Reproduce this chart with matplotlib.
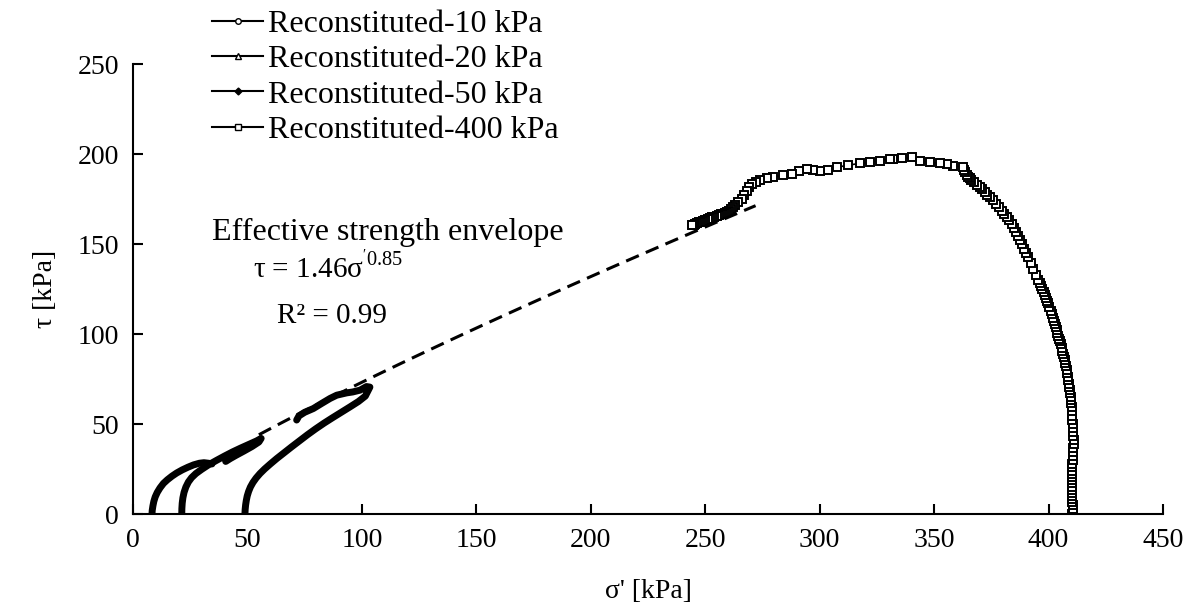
import numpy as np
import matplotlib
matplotlib.use('Agg')
import matplotlib.pyplot as plt
from matplotlib.lines import Line2D

plt.rcParams['font.family'] = ['Liberation Serif', 'DejaVu Serif']
plt.rcParams['mathtext.fontset'] = 'custom'
plt.rcParams['mathtext.rm'] = 'Liberation Serif'

# sigma' [kPa], tau [kPa]
sig_10 = [8.3, 8.4, 8.7, 9.1, 9.7, 10.6, 11.8, 13.3, 15.0, 17.0, 19.1, 21.5, 24.0, 26.5, 29.0,
          31.0, 33.0, 34.5]
tau_10 = [0.0, 2.0, 4.5, 7.0, 9.5, 12.0, 14.5, 17.0, 19.0, 21.0, 22.8, 24.5, 26.0, 27.3, 28.2,
          28.5, 28.2, 27.8]

sig_20 = [21.3, 21.35, 21.5, 21.8, 22.3, 23.1, 24.2, 25.6, 27.5, 30.0, 33.0, 36.5, 40.0, 43.5, 47.0,
          50.5, 54.0, 56.0, 55.0, 52.0, 48.5, 45.0, 42.5, 40.5]
tau_20 = [0.0, 3.0, 6.0, 9.0, 12.0, 15.0, 17.8, 20.2, 22.5, 24.8, 27.3, 29.8, 32.2, 34.5, 36.6,
          38.6, 40.6, 42.0, 40.0, 37.5, 35.0, 32.6, 30.8, 29.2]

sig_50 = [48.9, 49.0, 49.2, 49.5, 49.9, 50.5, 51.3, 52.4, 53.8, 55.5, 57.5, 60.0, 62.8, 66.0, 69.3,
          72.7, 76.2, 79.8, 83.5, 87.2, 91.0, 94.8, 98.5, 101.5, 103.5, 102.0, 99.2, 96.0, 93.4,
          89.0, 86.1, 82.4, 78.8, 75.0, 72.5, 71.5]
tau_50 = [0.0, 2.5, 5.0, 7.5, 10.0, 12.5, 15.0, 17.5, 20.0, 22.5, 25.0, 27.8, 30.8, 34.0, 37.3,
          40.6, 44.0, 47.3, 50.5, 53.5, 56.5, 59.5, 62.5, 65.5, 70.5, 70.8, 68.8, 67.8, 67.3,
          66.0, 64.2, 61.4, 58.6, 56.5, 54.5, 52.2]

sig_400 = [410.3, 410.5, 410.6, 410.5, 410.4, 410.2, 410.1, 410.1, 410.2, 410.3, 410.3, 410.4,
           410.4, 410.3, 410.1, 410.2, 410.3, 410.5, 410.6, 410.7, 410.8, 410.9, 410.9, 410.8,
           410.7, 410.6, 410.5, 410.4, 410.3, 410.2, 410.1, 409.9, 409.8, 409.6, 409.5, 409.3,
           409.1, 408.9, 408.6, 408.4, 408.1, 407.9, 407.6, 407.3, 407.0, 406.7, 406.4, 406.0,
           405.7, 405.3, 405.0, 404.6, 404.3, 403.9, 403.5, 403.1, 402.7, 402.2, 401.8, 401.3,
           400.9, 400.4, 399.9, 399.4, 398.9, 398.3, 397.8, 397.2, 396.7, 396.1, 395.5, 394.4,
           393.3, 392.2, 391.1, 390.2, 389.3, 388.4, 387.5, 386.6, 385.7, 384.8, 383.9, 382.8,
           381.7, 380.6, 379.5, 378.2, 377.0, 375.7, 374.4, 373.3, 372.2, 371.1, 370.0, 368.8,
           367.5, 366.2, 365.5, 364.9, 364.2, 363.5, 363.1, 362.7, 358.4, 355.5, 352.6, 348.0,
           343.8, 340.2, 336.0, 332.2, 330.7, 326.5, 322.0, 317.6, 312.5, 307.4, 303.6, 300.1,
           297.0, 294.3, 291.0, 287.8, 284.0, 279.7, 276.8, 273.9, 272.0, 270.3, 269.2, 268.1,
           267.0, 265.9, 264.5, 263.0, 262.1, 261.2, 260.3, 259.4, 258.5, 257.7, 256.8, 256.0,
           255.0, 254.0, 253.0, 252.0, 251.0, 250.0, 249.0, 248.0, 247.2, 246.5, 245.7, 245.0,
           244.5, 244.1]
tau_400 = [0.0, 1.5, 3.0, 4.8, 6.5, 8.2, 10.0, 11.8, 13.5, 15.2, 17.0, 18.8, 20.5, 22.2, 24.0,
           26.0, 28.0, 30.0, 32.0, 34.2, 36.5, 38.8, 41.0, 43.2, 45.5, 47.8, 50.0, 52.2, 54.5,
           57.0, 59.5, 61.5, 63.5, 65.2, 67.0, 68.8, 70.5, 72.4, 74.3, 76.2, 78.2, 80.1, 82.0,
           83.8, 85.5, 87.2, 89.0, 90.8, 92.5, 94.2, 96.0, 97.5, 99.0, 100.5, 102.0, 103.8,
           105.5, 107.2, 109.0, 111.0, 113.0, 115.0, 117.0, 118.6, 120.2, 121.8, 123.5, 125.1,
           126.7, 128.2, 129.8, 133.0, 136.0, 139.4, 142.7, 145.1, 147.5, 149.8, 152.0, 154.3,
           156.5, 158.9, 161.2, 163.1, 165.0, 166.8, 168.6, 170.6, 172.5, 174.3, 176.0, 177.5,
           179.0, 180.3, 181.5, 183.0, 184.5, 185.8, 186.4, 187.0, 188.5, 190.0, 191.3, 192.6,
           193.5, 194.2, 194.8, 195.5, 196.3, 198.1, 197.7, 197.2, 197.2, 196.3, 195.5, 194.8,
           193.8, 192.6, 191.3, 190.8, 191.3, 191.7, 190.5, 188.9, 188.2, 187.4, 186.5, 185.6,
           184.6, 183.4, 181.6, 179.7, 177.4, 175.1, 173.2, 171.4, 170.5, 169.5, 168.6, 167.6,
           167.2, 166.8, 166.4, 166.0, 165.6, 165.2, 164.8, 164.5, 164.0, 163.5, 163.0, 162.5,
           162.0, 161.5, 161.0, 160.5, 160.4, 160.3]

# effective strength envelope tau = A * sigma'^B
ENV_A = 1.46
ENV_B = 0.85
ENV_RANGE = [55, 272]

labels = ['Reconstituted-10 kPa', 'Reconstituted-20 kPa', 'Reconstituted-50 kPa', 'Reconstituted-400 kPa']
x_ticks = [0, 50, 100, 150, 200, 250, 300, 350, 400, 450]
y_ticks = [0, 50, 100, 150, 200, 250]

fig = plt.figure(figsize=(11.97, 6.11), dpi=100)
ax = fig.add_axes([133 / 1197, 1 - 514 / 611, 1030 / 1197, 450 / 611])

# dense marker curves appear as thick bands in the reference
for sig, tau in [(sig_10, tau_10), (sig_20, tau_20), (sig_50, tau_50)]:
    ax.plot(sig, tau, color='black', lw=5, solid_capstyle='round', solid_joinstyle='round')
ax.plot(sig_400, tau_400, color='black', lw=1.2, marker='s', markersize=5.5,
        markerfacecolor='white', markeredgecolor='black', markeredgewidth=1.4)

env_x = np.linspace(ENV_RANGE[0], ENV_RANGE[1], 100)
ax.plot(env_x, ENV_A * env_x ** ENV_B, color='black', lw=2.2, dashes=(4.5, 2.5))

ax.text(34.5, 152, 'Effective strength envelope', fontsize=23, ha='left', va='baseline')
ax.text(52.4, 131.5, "τ = 1.46σ$^{\\mathregular{'0.85}}$", fontsize=21, ha='left', va='baseline')
ax.text(62.9, 106.1, 'R² = 0.99', fontsize=21, ha='left', va='baseline')

ax.set_xlim(0, 450)
ax.set_ylim(0, 250)
ax.set_xticks(x_ticks)
ax.set_yticks(y_ticks)
ax.tick_params(direction='in', length=7, width=1.5, labelsize=20, pad=10)
ax.spines['top'].set_visible(False)
ax.spines['right'].set_visible(False)
ax.spines['left'].set_linewidth(1.5)
ax.spines['bottom'].set_linewidth(1.5)
ax.set_xlabel("σ' [kPa]", fontsize=20, labelpad=19)
ax.set_ylabel('τ [kPa]', fontsize=20, labelpad=14)

handles = [
    Line2D([], [], color='black', lw=1.5, marker='o', markersize=4, markerfacecolor='white'),
    Line2D([], [], color='black', lw=1.5, marker='^', markersize=4, markerfacecolor='white'),
    Line2D([], [], color='black', lw=1.5, marker='D', markersize=3.5),
    Line2D([], [], color='black', lw=1.5, marker='s', markersize=4, markerfacecolor='white'),
]
fig.legend(handles, labels, loc='upper left', bbox_to_anchor=(212 / 1197, 1 - 10 / 611),
           fontsize=23, frameon=False, borderpad=0, borderaxespad=0, handlelength=1.6,
           handletextpad=0.15, labelspacing=0.18)

fig.savefig('out.png', dpi=100)
